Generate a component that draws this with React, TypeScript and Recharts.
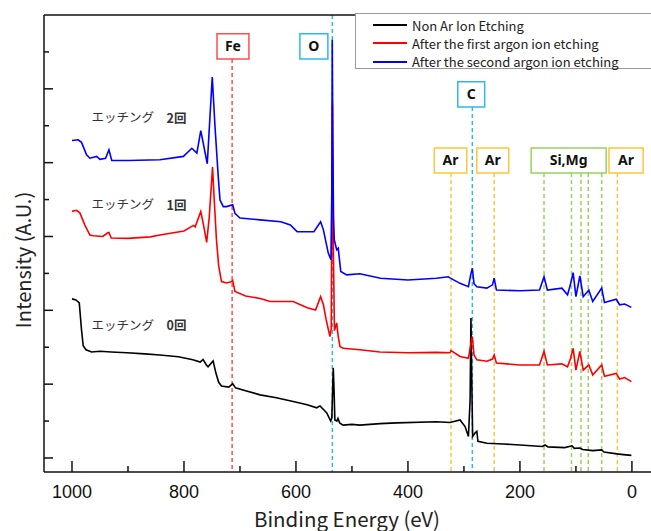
import React from "react";
import {
  LineChart,
  Line,
  XAxis,
  YAxis,
  ReferenceLine,
  ReferenceArea,
  ReferenceDot,
  Legend,
} from "recharts";

// binding energy (eV) and intensity (offset, arbitrary units)
const blackEnergy = [
  1000, 993, 987, 983, 980, 975, 965, 950, 930, 902, 870, 843, 810, 784, 771, 766, 760, 757, 748, 743,
  738, 733, 720, 713, 708, 690, 664, 635, 605, 580, 563, 557, 550, 545, 538, 536, 534, 533.4, 532, 530.5,
  527, 525, 522, 516, 500, 486, 450, 420, 349, 325, 307, 298, 292, 289, 287.5, 286, 284.5, 280, 277, 275,
  259, 230, 200, 160, 155, 150, 120, 107, 103, 93, 88, 70, 54, 50, 27, 15, 1,
];
const blackIntensity = [
  4.31, 4.28, 4.2, 3.47, 3.04, 2.93, 2.87, 2.89, 2.87, 2.85, 2.82, 2.79, 2.74, 2.66, 2.6, 2.67, 2.52, 2.47, 2.63, 2.3,
  2.05, 1.95, 1.92, 2.01, 1.9, 1.82, 1.71, 1.63, 1.53, 1.44, 1.36, 1.41, 1.3, 1.22, 1.0, 1.08, 2.11, 2.44, 1.84, 1.03,
  1.0, 1.07, 0.95, 0.89, 0.91, 0.89, 0.93, 0.95, 0.98, 0.96, 1.03, 0.85, 0.58, 1.57, 3.79, 2.11, 0.58, 0.68, 0.72, 0.45,
  0.4, 0.38, 0.35, 0.31, 0.35, 0.3, 0.28, 0.33, 0.26, 0.27, 0.23, 0.2, 0.22, 0.16, 0.11, 0.09, 0.07,
];

const redEnergy = [
  1000, 992, 986, 977, 968, 962, 945, 936, 934, 930, 900, 860, 843, 800, 783, 780, 770, 765, 759.5, 755,
  749, 746, 742, 738, 733, 724, 716, 713, 709, 690, 664, 646, 605, 580, 565, 556, 551, 546, 539.3, 537,
  536, 534.8, 533.5, 531.3, 527.3, 524.5, 521.4, 516, 486, 450, 400, 349, 325, 323, 307, 292, 288, 285, 282, 277,
  259, 249, 246, 242, 200, 165, 157, 151, 125, 115, 110, 105, 100, 93, 87, 77, 70, 54, 49, 28,
  22, 13, 1,
];
const redIntensity = [
  6.68, 6.71, 6.64, 6.31, 6.04, 6.02, 6.0, 6.1, 6.11, 5.96, 5.95, 5.99, 6.04, 6.15, 6.3, 6.26, 6.68, 6.3, 5.84, 6.5,
  7.88, 7.0, 5.91, 5.2, 4.78, 4.74, 4.77, 4.81, 4.51, 4.39, 4.32, 4.24, 4.24, 4.07, 4.01, 4.37, 4.15, 3.74, 3.29, 3.5,
  6.5, 9.6, 6.0, 3.45, 3.66, 3.29, 3.02, 2.97, 2.93, 2.87, 2.85, 2.86, 2.85, 2.91, 2.75, 2.7, 3.06, 3.29, 2.79, 2.66,
  2.62, 2.68, 2.79, 2.57, 2.52, 2.52, 2.89, 2.52, 2.55, 2.47, 2.68, 2.97, 2.38, 2.89, 2.38, 2.52, 2.25, 2.52, 2.21, 2.29,
  2.14, 2.18, 2.07,
];

const blueEnergy = [
  1000, 989, 983, 974, 968, 956, 950, 940, 934, 929, 900, 843, 801, 786, 777, 770, 758.4, 749.5, 744.6, 738.8,
  735.7, 729.8, 724, 713, 709, 700, 664, 627, 610, 598, 568, 556, 551, 542.3, 537.5, 536, 535.2, 534.2, 533, 531.6,
  527.3, 524.5, 520, 509.5, 486, 449, 400, 349, 328, 325, 307, 292, 288, 285, 282, 277, 259, 249, 246, 242,
  200, 165, 157, 151, 125, 115, 110, 105, 100, 93, 87, 77, 70, 54, 49, 28, 22, 13, 1,
];
const blueIntensity = [
  8.6, 8.62, 8.55, 8.21, 8.12, 8.17, 8.09, 8.12, 8.35, 8.06, 8.06, 8.08, 8.17, 8.39, 8.26, 8.87, 7.97, 10.32, 8.98, 7.62,
  6.99, 6.81, 6.81, 6.86, 6.63, 6.5, 6.45, 6.4, 6.31, 6.13, 6.13, 6.4, 6.18, 5.55, 5.37, 7.2, 11.33, 8.6, 6.6, 5.91,
  5.64, 5.68, 5.05, 4.96, 4.99, 4.87, 4.82, 4.87, 4.91, 4.88, 4.73, 4.64, 4.96, 5.14, 4.72, 4.64, 4.6, 4.69, 4.87, 4.55,
  4.53, 4.55, 4.91, 4.55, 4.6, 4.42, 4.69, 5.02, 4.37, 4.93, 4.37, 4.55, 4.24, 4.6, 4.21, 4.3, 4.15, 4.17, 4.08,
];

const seriesNames = [
  "Non Ar Ion Etching",
  "After the first argon ion etching",
  "After the second argon ion etching",
];
const etchLabels = ["0回", "1回", "2回"];

const xTicks = [0, 100, 200, 300, 400, 500, 600, 700, 800, 900, 1000];
const yTicks = [0, 1, 2, 3, 4, 5, 6, 7, 8, 9, 10, 11];

// peak positions (eV)
const feLines = [714];
const oLines = [535];
const cLines = [285];
const arLines = [323, 246, 26];
const siMgLines = [157, 108, 91, 78, 54];

const FE = "#ff4d4d";
const OC = "#2fb8ec";
const AR = "#ffc53d";
const SIMG = "#97d35c";

const zip = (e: number[], v: number[]) => e.map((x, i) => ({ e: x, v: v[i] }));

const series = [
  { name: seriesNames[0], color: "#000000", data: zip(blackEnergy, blackIntensity), tagY: 3.6 },
  { name: seriesNames[1], color: "#ff0000", data: zip(redEnergy, redIntensity), tagY: 6.86 },
  { name: seriesNames[2], color: "#0000ff", data: zip(blueEnergy, blueIntensity), tagY: 9.21 },
];

const markerLines = [
  ...feLines.map((e) => ({ e, top: 10.81, color: FE })),
  ...oLines.map((e) => ({ e, top: 12, color: OC })),
  ...cLines.map((e) => ({ e, top: 9.51, color: OC })),
  ...arLines.map((e) => ({ e, top: 7.72, color: AR })),
  ...siMgLines.map((e) => ({ e, top: 7.72, color: SIMG })),
];

const boxes = [
  { text: "Fe", x1: 741, x2: 684, y1: 10.81, y2: 11.49, color: FE },
  { text: "O", x1: 593, x2: 543, y1: 10.81, y2: 11.49, color: OC },
  { text: "C", x1: 311, x2: 263, y1: 9.51, y2: 10.19, color: OC },
  { text: "Ar", x1: 353, x2: 295, y1: 7.72, y2: 8.4, color: AR },
  { text: "Ar", x1: 277, x2: 220, y1: 7.72, y2: 8.4, color: AR },
  { text: "Si,Mg", x1: 180, x2: 46, y1: 7.72, y2: 8.4, color: SIMG },
  { text: "Ar", x1: 41, x2: -20, y1: 7.72, y2: 8.4, color: AR },
];

const X_DOMAIN: [number, number] = [-68, 1050];
const Y_DOMAIN: [number, number] = [-0.38, 12];
const AXIS = "#111";
const CJK = "'Noto Sans CJK JP', 'Noto Sans', sans-serif";

const XTick = (props: any) => {
  const { x, y, payload } = props;
  const major = payload.value % 200 === 0;
  return (
    <g>
      <line x1={x} x2={x} y1={y} y2={y - (major ? 11 : 6)} stroke={AXIS} strokeWidth={1.5} />
      {major && (
        <text
          x={x}
          y={y + 26}
          textAnchor="middle"
          fontSize={18}
          fontFamily="'Liberation Sans', Arial, sans-serif"
          fill="#111"
        >
          {payload.value}
        </text>
      )}
    </g>
  );
};

const YTick = (props: any) => {
  const { x, y, payload } = props;
  const major = payload.value % 2 === 0;
  return <line x1={x} x2={x + (major ? 9 : 5)} y1={y} y2={y} stroke={AXIS} strokeWidth={1.5} />;
};

const XTitle = (props: any) => {
  const vb = props.viewBox || { x: 44, y: 472, width: 626 };
  return (
    <text x={vb.x + 303} y={vb.y + 55} textAnchor="middle" fontSize={20.5} fontFamily={CJK} fill="#222">
      Binding Energy (eV)
    </text>
  );
};

const YTitle = (props: any) => {
  const vb = props.viewBox || { x: 0, y: 15, width: 44, height: 457 };
  const cx = vb.x + 22;
  const cy = vb.y + 245;
  return (
    <text
      x={cx}
      y={cy}
      transform={`rotate(-90 ${cx} ${cy})`}
      textAnchor="middle"
      dominantBaseline="central"
      fontSize={20}
      fontFamily={CJK}
      fill="#222"
    >
      Intensity (A.U.)
    </text>
  );
};

const EtchTag = (label: string) => (props: any) => {
  const vb = props.viewBox || { x: 0, y: 0 };
  return (
    <text x={vb.x + 1} y={vb.y} dominantBaseline="central" fontSize={12.5} fontFamily={CJK} fill="#333">
      エッチング　<tspan fontWeight={700}>{label}</tspan>
    </text>
  );
};

const LegendBox = () => (
  <div
    style={{
      position: "relative",
      width: 330,
      height: 56,
      border: "1px solid #9a9a9a",
      background: "#fff",
      boxSizing: "border-box",
      fontFamily: CJK,
      fontSize: 13,
      color: "#222",
    }}
  >
    {series.map((s, i) => (
      <div
        key={s.name}
        style={{ position: "absolute", left: 17, top: 2 + i * 18.3, height: 18, display: "flex", alignItems: "center" }}
      >
        <span style={{ display: "inline-block", width: 34, height: 2, background: s.color, marginRight: 5 }} />
        <span style={{ whiteSpace: "nowrap" }}>{s.name}</span>
      </div>
    ))}
  </div>
);

export default function App() {
  return (
    <div style={{ position: "absolute", left: 0, top: 0, width: 651, height: 531, overflow: "hidden", background: "#fff" }}>
      <LineChart width={680} height={531} margin={{ top: 0, right: 10, bottom: 0, left: 0 }}>
        <XAxis
          type="number"
          dataKey="e"
          domain={X_DOMAIN}
          allowDataOverflow
          reversed
          ticks={xTicks}
          interval={0}
          height={59}
          tickSize={0}
          tickMargin={0}
          tickLine={false}
          tick={XTick}
          axisLine={{ stroke: AXIS, strokeWidth: 1.5 }}
          label={XTitle}
        />
        <XAxis
          xAxisId="top"
          orientation="top"
          type="number"
          dataKey="e"
          domain={X_DOMAIN}
          allowDataOverflow
          reversed
          height={15}
          tick={false}
          tickLine={false}
          axisLine={{ stroke: AXIS, strokeWidth: 1.5 }}
        />
        <YAxis
          type="number"
          domain={Y_DOMAIN}
          allowDataOverflow
          ticks={yTicks}
          interval={0}
          width={44}
          tickSize={0}
          tickMargin={0}
          tickLine={false}
          tick={YTick}
          axisLine={{ stroke: AXIS, strokeWidth: 1.5 }}
          label={YTitle}
        />
        {markerLines.map((m, i) => (
          <ReferenceLine
            key={`m${i}`}
            segment={[
              { x: m.e, y: m.top },
              { x: m.e, y: Y_DOMAIN[0] },
            ]}
            stroke={m.color}
            strokeWidth={1.5}
            strokeDasharray="4 3"
          />
        ))}
        {series.map((s) => (
          <Line
            key={s.name}
            data={s.data}
            dataKey="v"
            name={s.name}
            type="linear"
            stroke={s.color}
            strokeWidth={1.6}
            dot={false}
            activeDot={false}
            isAnimationActive={false}
          />
        ))}
        {boxes.map((b, i) => (
          <ReferenceArea
            key={`b${i}`}
            x1={b.x1}
            x2={b.x2}
            y1={b.y1}
            y2={b.y2}
            fill="#ffffff"
            fillOpacity={1}
            stroke={b.color}
            strokeWidth={1.5}
            label={{
              value: b.text,
              position: "center",
              fill: "#111",
              fontSize: 14,
              fontWeight: 700,
              fontFamily: "'Noto Sans', sans-serif",
            }}
          />
        ))}
        {series.map((s, i) => (
          <ReferenceDot
            key={`t${i}`}
            x={965}
            y={s.tagY}
            r={1}
            fill="none"
            stroke="none"
            label={EtchTag(etchLabels[i])}
          />
        ))}
        <Legend
          layout="vertical"
          align="center"
          verticalAlign="middle"
          wrapperStyle={{ left: 355, top: 13, width: 330 }}
          content={LegendBox}
        />
      </LineChart>
    </div>
  );
}
